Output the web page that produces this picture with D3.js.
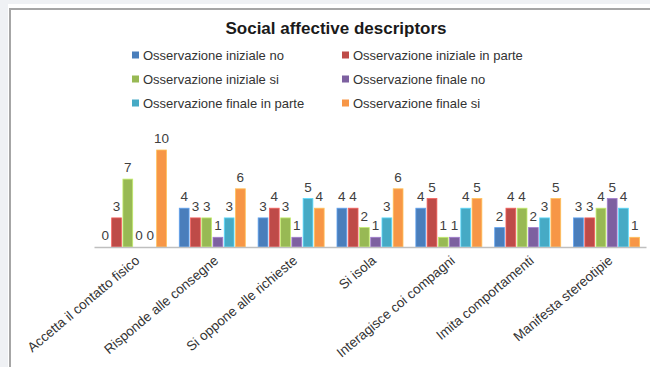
<!DOCTYPE html>
<html>
<head>
<meta charset="utf-8">
<script src="https://cdn.jsdelivr.net/npm/d3@7"></script>
<style>
  html, body { margin: 0; padding: 0; background: #eff1f4; }
  svg { display: block; }
</style>
</head>
<body>
<svg id="chart" width="650" height="367"></svg>
<script>
const categories = [
  "Accetta il contatto fisico",
  "Risponde alle consegne",
  "Si oppone alle richieste",
  "Si isola",
  "Interagisce coi compagni",
  "Imita comportamenti",
  "Manifesta stereotipie"
];
const seriesNames = [
  "Osservazione iniziale no",
  "Osservazione iniziale in parte",
  "Osservazione iniziale si",
  "Osservazione finale no",
  "Osservazione finale in parte",
  "Osservazione finale si"
];
const inizialeNo      = [0, 4, 3, 4, 4, 2, 3];
const inizialeInParte = [3, 3, 4, 4, 5, 4, 3];
const inizialeSi      = [7, 3, 3, 2, 1, 4, 4];
const finaleNo        = [0, 1, 1, 1, 1, 2, 5];
const finaleInParte   = [0, 3, 5, 3, 4, 3, 4];
const finaleSi        = [10, 6, 4, 6, 5, 5, 1];
const seriesValues = [inizialeNo, inizialeInParte, inizialeSi, finaleNo, finaleInParte, finaleSi];
const colors = ["#4a7ebb", "#be4b48", "#98b954", "#7d60a0", "#46aac5", "#f79646"];
const title = "Social affective descriptors";

const svg = d3.select("#chart");
const font = "'Liberation Sans', Arial, sans-serif";

// outer white panel and frame
svg.append("rect").attr("x", 8).attr("y", 4).attr("width", 660).attr("height", 380).attr("fill", "#ffffff");
svg.append("rect").attr("x", 10).attr("y", 9).attr("width", 660).attr("height", 380)
  .attr("fill", "#ffffff").attr("stroke", "#a6a6a6").attr("stroke-width", 2);

// title
svg.append("text").attr("x", 336).attr("y", 34).attr("text-anchor", "middle")
  .attr("font-family", font).attr("font-weight", "bold").attr("font-size", 17)
  .attr("fill", "#1a1a1a").text(title);

// legend
const legCols = [132, 342];
const legRows = [55, 79, 103];
const leg = svg.append("g");
seriesNames.forEach((name, i) => {
  const cx = legCols[i % 2], cy = legRows[Math.floor(i / 2)];
  leg.append("rect").attr("x", cx).attr("y", cy - 3.5).attr("width", 7).attr("height", 7).attr("fill", colors[i]);
  leg.append("text").attr("x", cx + 11).attr("y", cy + 4.5)
    .attr("font-family", font).attr("font-size", 13).attr("fill", "#333")
    .text(name);
});

// scales
const baseY = 247;
const x0 = d3.scaleBand().domain(categories).range([94, 646]);
const bw = x0.bandwidth();
const groupW = 66;
const x1 = d3.scaleBand().domain(seriesNames).range([(bw - groupW) / 2, (bw + groupW) / 2]).paddingInner(0.13);
const y = d3.scaleLinear().domain([0, 10]).range([baseY, 150]);

const plot = svg.append("g");
categories.forEach((cat, ci) => {
  const g = plot.append("g").attr("transform", `translate(${x0(cat)},0)`);
  seriesNames.forEach((s, si) => {
    const v = seriesValues[si][ci];
    if (v > 0) {
      g.append("rect")
        .attr("x", x1(s)).attr("y", y(v))
        .attr("width", x1.bandwidth()).attr("height", y(0) - y(v))
        .attr("fill", colors[si])
        .attr("stroke", d3.color(colors[si]).brighter(0.7)).attr("stroke-width", 0.8);
    }
    g.append("text")
      .attr("x", x1(s) + x1.bandwidth() / 2).attr("y", y(v) - 7)
      .attr("text-anchor", "middle")
      .attr("font-family", font).attr("font-size", 13.5).attr("fill", "#404040")
      .text(v);
  });
});

// x axis
const xAxis = d3.axisBottom(x0).tickSize(0).tickPadding(0);
const ax = svg.append("g").attr("transform", `translate(0,${baseY})`).call(xAxis);
ax.select(".domain").attr("stroke", "#bfbfbf").attr("stroke-width", 1.5);
ax.selectAll(".tick text")
  .attr("font-family", font).attr("font-size", 13.5).attr("fill", "#333")
  .attr("text-anchor", "end")
  .attr("dy", 0)
  .attr("transform", "translate(7,15) rotate(-40)");
</script>
</body>
</html>
